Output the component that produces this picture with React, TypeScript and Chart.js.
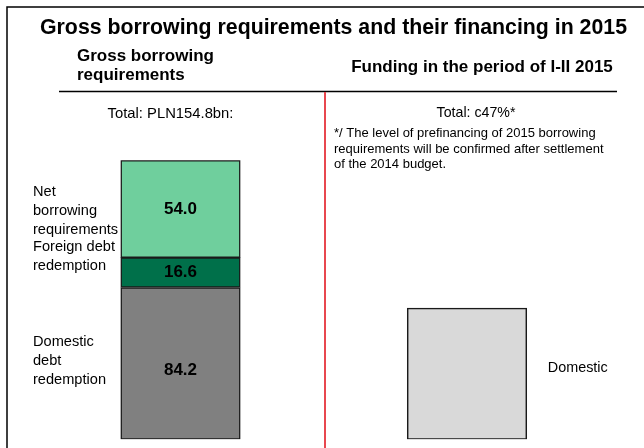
import React, { useEffect, useRef } from "react";
import { Chart, registerables } from "chart.js";

Chart.register(...registerables);

const mainTitle = "Gross borrowing requirements and their financing in 2015";
const leftHeader = ["Gross borrowing", "requirements"];
const rightHeader = "Funding in the period of I-II 2015";
const categories = ["Gross borrowing requirements", "Funding in the period of I-II 2015"];
const totalLabels = ["Total: PLN154.8bn:", "Total: c47%*"];
const footnote = [
  "*/ The level of prefinancing of 2015 borrowing",
  "requirements will be confirmed after settlement",
  "of the 2014 budget.",
];
const totalRequirement = 154.8;

const domesticDebtRedemption = [84.2, null];
const foreignDebtRedemption = [16.6, null];
const netBorrowingRequirements = [54.0, null];
const domesticFunding = [null, 72.8];

const segmentNames = [
  ["Domestic", "debt", "redemption"],
  ["Foreign debt", "redemption"],
  ["Net", "borrowing", "requirements"],
  ["Domestic"],
];

const FONT = '"Liberation Sans", Arial, Helvetica, sans-serif';

function txt(
  ctx: CanvasRenderingContext2D,
  s: string,
  x: number,
  y: number,
  size: number,
  bold: boolean,
  align: CanvasTextAlign,
  sx = 1
) {
  ctx.save();
  ctx.font = `${bold ? "bold " : ""}${size}px ${FONT}`;
  ctx.textBaseline = "middle";
  ctx.textAlign = align;
  ctx.fillStyle = "#000";
  ctx.translate(x, y);
  ctx.scale(sx, 1);
  ctx.fillText(s, 0, 0);
  ctx.restore();
}

const decorPlugin = {
  id: "decor",
  beforeDraw(chart: any) {
    const ctx = chart.ctx as CanvasRenderingContext2D;
    ctx.save();
    ctx.fillStyle = "#fff";
    ctx.fillRect(0, 0, chart.width, chart.height);
    // frame
    ctx.strokeStyle = "#000";
    ctx.lineWidth = 1.5;
    ctx.beginPath();
    ctx.moveTo(7, chart.height + 2);
    ctx.lineTo(7, 7);
    ctx.lineTo(chart.width + 2, 7);
    ctx.stroke();
    // header rule
    ctx.lineWidth = 1.5;
    ctx.beginPath();
    ctx.moveTo(59, 91.5);
    ctx.lineTo(617, 91.5);
    ctx.stroke();
    // red divider
    ctx.strokeStyle = "#E8474F";
    ctx.lineWidth = 2;
    ctx.beginPath();
    ctx.moveTo(325, 92);
    ctx.lineTo(325, chart.height);
    ctx.stroke();
    ctx.restore();

    txt(ctx, mainTitle, 333.5, 28, 21.3, true, "center");
    txt(ctx, leftHeader[0], 77, 56, 17, true, "left");
    txt(ctx, leftHeader[1], 77, 75.5, 17, true, "left");
    txt(ctx, rightHeader, 482, 67, 17, true, "center");

    const xs = chart.scales.x;
    txt(ctx, totalLabels[0], xs.getPixelForValue(0) - 10, 113.5, 14.8, false, "center");
    txt(ctx, totalLabels[1], xs.getPixelForValue(1) + 9, 113.5, 14.2, false, "center");
    footnote.forEach((line, i) => txt(ctx, line, 334, 133.5 + i * 15.5, 13, false, "left"));
  },
  afterDatasetsDraw(chart: any) {
    const ctx = chart.ctx as CanvasRenderingContext2D;
    const labelOffsets = [-2, -16, 2];
    const valueOffsets = [7, 0, 0];
    for (let d = 0; d < 3; d++) {
      const el = chart.getDatasetMeta(d).data[0];
      const mid = (el.y + el.base) / 2;
      const lines = segmentNames[d];
      const start = mid + labelOffsets[d] - ((lines.length - 1) * 19) / 2;
      lines.forEach((l, i) => txt(ctx, l, 33, start + i * 19, 14.6, false, "left"));
      const v = chart.data.datasets[d].data[0] as number;
      txt(ctx, v.toFixed(1), el.x, mid + valueOffsets[d], 17, true, "center");
    }
    const el = chart.getDatasetMeta(3).data[1];
    const mid = (el.y + el.base) / 2;
    txt(ctx, segmentNames[3][0], el.x + el.width / 2 + 21, mid - 6, 14.4, false, "left");
  },
};

export default function App() {
  const ref = useRef<HTMLCanvasElement>(null);
  useEffect(() => {
    document.body.style.margin = "0";
    const border = "#1a1a1a";
    const chart = new Chart(ref.current!, {
      type: "bar",
      data: {
        labels: categories,
        datasets: [
          { label: "Domestic debt redemption", data: domesticDebtRedemption, backgroundColor: "#808080" },
          { label: "Foreign debt redemption", data: foreignDebtRedemption, backgroundColor: "#00704A" },
          { label: "Net borrowing requirements", data: netBorrowingRequirements, backgroundColor: "#6FCF9D" },
          { label: "Domestic", data: domesticFunding, backgroundColor: "#D9D9D9" },
        ].map((ds) => ({
          ...ds,
          stack: "s",
          borderColor: border,
          borderWidth: 1.5,
          borderSkipped: false,
          barThickness: 119.5,
        })) as any,
      },
      options: {
        animation: false,
        responsive: false,
        maintainAspectRatio: false,
        layout: { padding: { left: 37.25, right: 33.75, top: 160.3, bottom: 8.7 } },
        scales: {
          x: { display: false, stacked: true, offset: true },
          y: { display: false, stacked: true, min: 0, max: totalRequirement },
        },
        plugins: { legend: { display: false }, tooltip: { enabled: false }, title: { display: false } },
      },
      plugins: [decorPlugin],
    });
    return () => chart.destroy();
  }, []);
  return (
    <div style={{ position: "absolute", left: 0, top: 0, width: 644, height: 448 }}>
      <canvas ref={ref} width={644} height={448} style={{ display: "block", width: 644, height: 448 }} />
    </div>
  );
}
